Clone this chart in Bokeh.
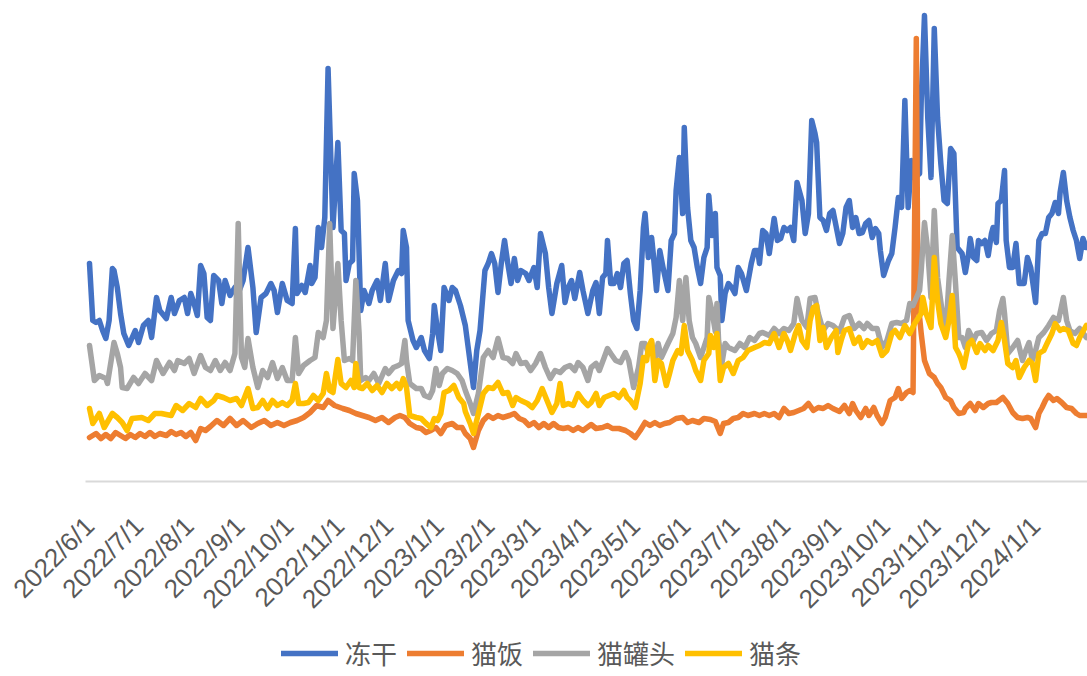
import math
import pandas as pd
from bokeh.plotting import figure
from bokeh.models import Range1d, Legend, LegendItem, ColumnDataSource
from bokeh.core.properties import value
from bokeh.embed import file_html
from bokeh.resources import INLINE

# ---------------- data (day offsets from 2022/6/1, index values) ----------------
START = pd.Timestamp("2022-06-01")
tick_labels = ["2022/6/1", "2022/7/1", "2022/8/1", "2022/9/1", "2022/10/1", "2022/11/1",
               "2022/12/1", "2023/1/1", "2023/2/1", "2023/3/1", "2023/4/1", "2023/5/1",
               "2023/6/1", "2023/7/1", "2023/8/1", "2023/9/1", "2023/10/1", "2023/11/1",
               "2023/12/1", "2024/1/1"]
series_names = ["冻干", "猫饭", "猫罐头", "猫条"]

dongan_days = [0,2,4,6,8,10,12,14,15,17,19,21,24,28,30,33,36,38,41,43,47,50,52,55,58,60,62,64,66,68,70,72,74,76,79,81,83,86,89,91,94,97,100,102,105,108,111,113,115,118,121,124,126,127,130,132,135,136,138,140,142,144,146,149,152,154,156,157,159,161,162,164,166,168,171,173,176,178,181,183,186,189,191,192,194,195,198,200,203,205,208,210,211,213,215,217,220,222,224,227,230,232,235,237,239,242,244,246,248,250,252,254,256,258,260,262,264,267,269,272,274,276,279,281,283,286,289,291,293,295,297,300,302,305,308,310,312,314,316,317,319,321,323,325,327,329,331,333,335,337,339,340,342,344,345,347,349,351,354,356,358,359,361,363,364,366,368,370,372,374,376,378,379,381,383,384,386,387,389,391,393,395,397,399,402,405,407,409,410,412,414,416,419,421,423,425,427,429,431,433,436,438,440,442,444,445,447,449,451,453,455,459,461,463,465,467,469,471,473,475,477,479,481,483,484,486,489,491,493,495,497,499,501,503,505,508,509,511,513,515,517,519,521,523,525,527,529,531,534,536,538,539,541,543,544,546,548,550,552,553,555,556,558,560,561,563,565,567,569,572,574,576,578,579,581,583,585,587,589,591,593,594,596,598,600,602,604,606,608,610]
dongan_vals = [218,161,159,161,151,143,161,213,211,194,168,148,136,151,139,156,161,144,184,171,163,184,168,181,184,168,188,178,166,216,208,164,161,206,201,178,201,186,194,188,201,234,194,149,184,188,198,191,169,198,181,178,253,188,196,189,216,198,204,254,234,264,413,254,339,251,248,201,218,221,308,281,171,191,178,191,201,181,218,181,201,211,208,251,234,161,141,134,144,131,123,148,176,151,131,194,181,194,191,176,156,131,94,131,151,211,218,228,218,189,218,241,218,198,223,201,211,208,201,214,194,248,228,194,168,198,216,179,194,201,183,209,191,168,191,199,168,204,208,241,198,198,208,194,218,221,188,161,153,191,254,268,224,244,228,191,231,214,191,241,248,291,324,268,354,274,241,234,214,198,224,234,286,246,268,214,206,161,188,198,194,188,214,208,191,218,231,231,218,251,248,228,263,241,243,254,251,254,241,299,281,248,268,361,348,339,264,261,251,268,271,238,248,274,281,254,264,248,249,258,261,244,253,248,231,206,221,228,254,284,274,381,274,321,304,308,381,466,364,304,453,364,318,281,278,333,328,234,228,209,228,243,224,221,241,238,241,226,248,254,239,278,281,311,241,214,214,238,198,198,224,214,191,179,241,248,248,264,268,279,268,289,309,281,264,251,241,223,243,234]

maofan_days = [0,4,7,10,13,16,19,22,25,28,31,34,37,40,43,47,50,53,56,59,62,65,68,71,74,78,82,86,90,94,99,103,107,111,115,119,123,127,131,135,139,143,146,150,155,159,163,167,171,175,179,183,187,190,193,196,200,203,206,209,212,215,218,222,225,228,230,233,235,238,241,244,247,250,253,257,260,263,266,269,272,275,278,281,284,287,290,293,296,299,302,307,310,314,317,320,324,328,331,334,337,340,343,346,349,352,355,359,363,366,369,373,376,380,383,386,388,391,394,397,400,403,407,410,413,416,419,422,425,428,431,434,437,440,443,446,449,452,455,459,462,465,467,469,472,475,477,480,482,485,487,490,493,495,497,500,502,504,506,507,509,511,514,517,519,521,524,527,529,532,535,536,539,542,544,547,550,552,555,559,562,565,568,571,574,576,579,581,583,585,587,590,592,595,598,601,604,606,610]
maofan_vals = [44,48,43,47,43,49,46,43,47,44,48,45,49,45,48,46,50,47,49,45,49,41,53,51,55,61,56,63,56,61,54,58,61,56,59,56,59,61,64,69,76,74,81,76,73,71,68,66,64,61,64,59,64,66,64,58,54,53,49,51,54,48,56,58,54,54,48,43,34,51,61,66,63,66,64,66,68,63,61,56,59,54,58,54,58,54,53,54,51,54,51,57,53,54,56,53,53,51,48,44,51,59,56,59,56,58,59,63,64,59,61,59,63,62,60,48,58,59,63,64,68,66,68,66,68,66,68,64,73,68,69,71,73,78,71,74,73,76,73,70,76,68,78,71,64,73,66,74,66,58,64,81,84,93,83,89,91,89,443,181,148,121,108,104,98,94,84,81,74,68,69,73,78,71,78,74,78,79,79,84,78,69,64,63,64,63,54,68,74,81,86,81,83,79,74,73,68,66,66]

guantou_days = [0,3,6,10,11,15,17,19,20,23,27,30,34,38,41,45,49,52,54,58,61,64,68,71,74,77,80,83,86,89,91,93,95,97,100,103,106,109,112,115,118,121,124,126,128,131,135,138,140,143,145,147,149,152,154,156,159,161,163,165,166,169,171,174,177,181,183,186,189,191,193,194,196,200,203,205,208,210,212,214,216,219,222,225,228,230,233,235,238,241,244,247,250,253,256,259,261,264,267,270,273,276,279,282,285,288,291,294,297,299,302,305,307,310,312,315,317,319,322,325,328,330,333,336,338,340,342,344,346,348,350,352,354,357,359,361,363,365,367,369,371,374,376,378,379,381,383,384,385,387,389,391,395,398,401,404,407,410,412,416,419,422,425,428,431,433,436,439,441,444,446,449,452,455,459,462,465,468,471,474,476,479,482,485,488,491,494,497,500,502,504,508,509,511,513,515,517,519,522,524,526,528,530,532,534,536,538,541,543,546,549,552,555,557,559,560,562,565,568,571,573,575,577,579,581,584,587,590,593,596,598,600,603,606,610]
guantou_vals = [136,101,106,103,98,139,128,114,94,93,104,98,108,101,121,108,119,111,121,118,123,108,126,114,111,121,111,119,111,128,258,124,114,143,114,94,111,104,119,103,114,101,101,144,108,116,121,124,149,144,161,258,153,218,161,121,123,121,201,148,101,104,101,108,98,113,108,114,116,118,141,121,98,93,93,86,84,91,113,96,108,113,111,108,101,91,78,68,88,124,131,124,143,124,123,118,128,118,119,111,118,128,114,103,111,109,114,116,111,119,114,101,114,118,111,124,133,128,121,119,129,121,94,114,138,138,128,139,121,138,124,131,138,148,164,201,161,204,161,144,138,124,134,144,184,170,150,178,141,118,138,134,131,138,134,144,141,148,149,146,153,148,153,151,158,183,161,154,183,184,168,151,158,156,150,164,166,153,158,153,158,153,153,134,141,158,159,158,161,178,176,191,211,259,231,184,271,204,168,148,201,246,198,144,144,134,151,141,148,149,141,148,151,171,183,168,128,134,141,121,131,139,121,131,144,149,156,164,161,184,161,151,148,153,144]

maotiao_days = [0,2,6,9,14,17,20,23,26,32,36,40,44,50,53,57,61,65,68,72,76,78,82,86,90,93,97,100,103,106,109,112,115,118,121,124,126,128,131,134,137,140,143,145,147,149,152,154,157,160,162,163,165,167,170,173,176,179,182,185,188,190,192,194,196,200,203,206,209,211,213,215,217,220,223,226,229,230,233,235,238,241,244,247,250,253,256,259,261,264,268,271,274,277,280,283,286,288,290,293,296,299,302,305,307,310,312,315,318,321,324,327,329,331,334,337,339,341,342,344,346,348,350,353,355,357,360,362,364,366,369,371,374,376,379,380,382,384,386,388,391,394,397,400,403,407,410,413,416,419,422,425,427,429,432,434,436,439,441,443,445,447,449,451,454,457,458,460,462,465,468,471,473,476,479,482,485,488,491,493,496,499,502,505,509,510,512,515,517,519,521,524,526,528,530,532,533,535,538,540,543,545,548,550,553,556,558,560,562,565,567,569,572,575,577,579,581,584,586,589,591,594,596,599,602,604,606,610]
maotiao_vals = [73,58,68,54,68,64,59,51,63,64,61,68,68,66,76,71,78,74,83,76,81,86,84,81,83,76,93,73,74,81,73,81,76,79,76,81,98,78,78,79,86,81,88,108,91,89,122,98,94,101,94,118,94,93,98,91,96,89,98,93,98,93,103,94,66,64,63,58,54,63,61,68,89,91,96,84,78,70,58,48,68,88,94,93,99,88,89,76,84,81,78,74,81,93,81,69,78,98,76,78,76,88,81,76,79,88,76,84,86,88,84,91,84,81,74,98,124,121,134,141,101,121,118,96,108,121,131,128,156,131,121,111,101,121,128,146,134,148,101,114,118,108,121,124,131,134,136,139,138,148,134,148,141,131,148,156,141,134,161,174,176,141,154,134,144,151,129,141,151,153,138,144,134,141,138,141,126,131,148,151,144,156,148,158,168,184,168,154,224,181,158,144,161,186,134,128,124,114,138,141,129,138,131,136,131,141,159,141,118,114,121,104,114,121,118,101,128,131,138,148,158,151,153,151,138,136,144,156]

# ---------------- layout constants (screen geometry) ----------------
COLORS = ["#4472C4", "#ED7D31", "#A5A5A5", "#FFC000"]
TEXT = "#595959"
X_START, X_END = -54.47, 610.77    # visible day range (1.634 px per day)
Y_START, Y_END = -195, 481         # series baseline at 0
AXIS_START = -2.45                 # where the category axis line begins
LABEL_Y = -40                      # anchor of the rotated date labels below the axis

tick_days = [(pd.to_datetime(t, format="%Y/%m/%d") - START).days for t in tick_labels]

p = figure(width=1087, height=676, output_backend="svg", toolbar_location=None,
           x_range=Range1d(X_START, X_END), y_range=Range1d(Y_START, Y_END),
           x_axis_location=None, y_axis_location=None, min_border=0)
p.outline_line_color = None
p.xgrid.visible = False
p.ygrid.visible = False
p.background_fill_color = "white"
p.border_fill_color = "white"

# category axis line
p.line([AXIS_START, X_END], [0, 0], line_color="#D9D9D9", line_width=2)

xs = [dongan_days, maofan_days, guantou_days, maotiao_days]
ys = [dongan_vals, maofan_vals, guantou_vals, maotiao_vals]
renderers = []
for d, v, c in zip(xs, ys, COLORS):
    r = p.line(d, v, line_color=c, line_width=5.5, line_join="round", line_cap="round")
    renderers.append(r)

# rotated date tick labels
lab_src = ColumnDataSource(dict(x=tick_days, y=[LABEL_Y] * len(tick_days), t=tick_labels))
p.text(x="x", y="y", text="t", source=lab_src, angle=math.pi / 4,
       text_align="right", text_baseline="middle",
       text_font=value("Liberation Sans"), text_font_size="26px", text_color=TEXT)

legend = Legend(items=[LegendItem(label=n, renderers=[r]) for n, r in zip(series_names, renderers)],
                orientation="horizontal", location=(281, 5))
legend.label_text_font = "Noto Sans CJK SC"
legend.label_text_font_size = "26px"
legend.label_text_color = TEXT
legend.label_height = 24
legend.glyph_width = 57
legend.glyph_height = 24
legend.label_standoff = 7
legend.spacing = 10
legend.padding = 0
legend.margin = 0
legend.border_line_color = None
legend.background_fill_alpha = 0
p.add_layout(legend)

open("out.html", "w").write(file_html(p, INLINE))
